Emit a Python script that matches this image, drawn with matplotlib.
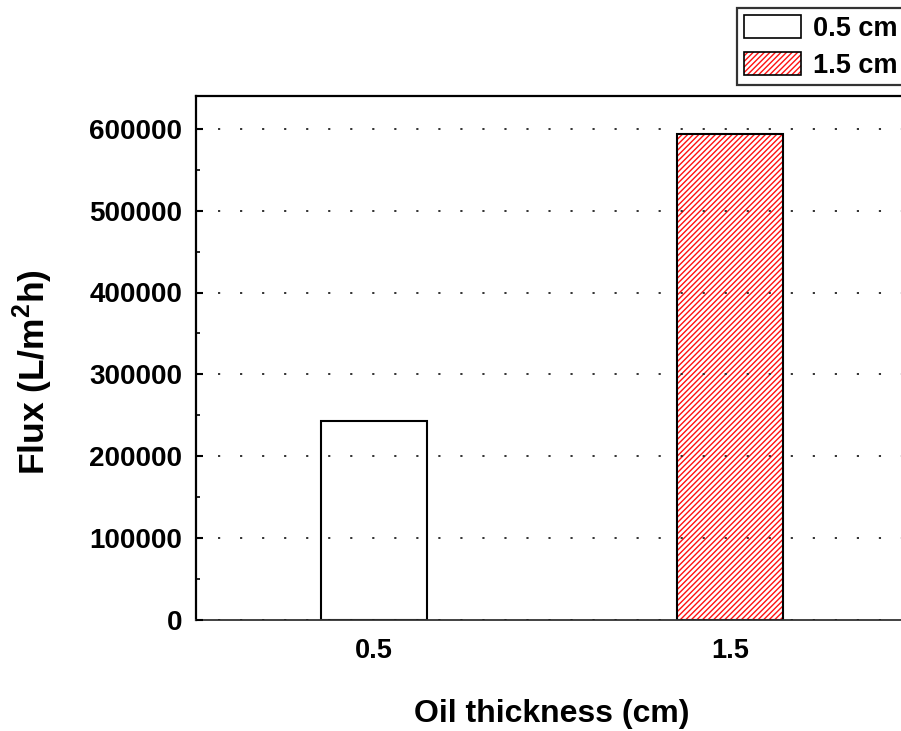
import numpy as np
import matplotlib
matplotlib.use("Agg")
import matplotlib.pyplot as plt
from matplotlib.patches import Patch
from matplotlib.legend_handler import HandlerTuple

plt.rcParams['font.family'] = ['Liberation Sans', 'DejaVu Sans']
plt.rcParams['font.weight'] = 'bold'
plt.rcParams['mathtext.fontset'] = 'custom'
plt.rcParams['mathtext.rm'] = 'Liberation Sans:bold'
plt.rcParams['mathtext.bf'] = 'Liberation Sans:bold'
plt.rcParams['hatch.linewidth'] = 1.0

# oil thickness (cm) and measured flux (L/m2h)
thickness = [0.5, 1.5]
flux = [243000, 594000]
labels = ['0.5 cm', '1.5 cm']
yticks = [0, 100000, 200000, 300000, 400000, 500000, 600000]

fig = plt.figure(figsize=(9.01, 7.31), dpi=100)
ax = fig.add_axes([196 / 901, 1 - 620 / 731, 712 / 901, 524 / 731])

hatch = '/' * 6
# plain bar
ax.bar(thickness[0], flux[0], width=0.3, facecolor='white',
       edgecolor='black', linewidth=1.5, zorder=2)
# hatched bar: red hatch first, black outline on top
ax.bar(thickness[1], flux[1], width=0.3, facecolor='white',
       edgecolor='#ff1010', hatch=hatch, linewidth=0, zorder=2)
ax.bar(thickness[1], flux[1], width=0.3, fill=False,
       edgecolor='black', linewidth=1.5, zorder=2)

ax.set_xlim(0, 2)
ax.set_ylim(0, 640000)
ax.set_xticks(thickness)
ax.set_xticklabels([str(t) for t in thickness])
ax.set_yticks(yticks)
ax.set_yticklabels([str(v) for v in yticks])
ax.set_yticks(np.arange(50000, 640000, 100000), minor=True)

ax.tick_params(axis='x', length=0, pad=13, labelsize=19.5)
ax.tick_params(axis='y', which='major', direction='in', length=5,
               width=1.5, pad=10, labelsize=20)
ax.tick_params(axis='y', which='minor', direction='in', length=3, width=1.2)

ax.yaxis.grid(True, linestyle=(0, (1.2, 11)), linewidth=1.3,
              color='#222222', zorder=3)
ax.set_axisbelow(False)

for side in ['left', 'top']:
    ax.spines[side].set_linewidth(1.6)
ax.spines['bottom'].set_linewidth(1.3)
ax.spines['bottom'].set_color('#333333')

ax.set_xlabel('Oil thickness (cm)', fontsize=23, fontweight='bold', labelpad=25)
ax.set_ylabel(r'Flux (L/m$^{2}$h)', fontsize=25.5, fontweight='bold')
ax.yaxis.set_label_coords((55 - 196) / 712, 0.473)

swatch_plain = Patch(facecolor='white', edgecolor='black', linewidth=1.2)
swatch_hatch = Patch(facecolor='white', edgecolor='#ff1010', hatch=hatch, linewidth=0)
swatch_edge = Patch(fill=False, edgecolor='black', linewidth=1.2)
leg = fig.legend([swatch_plain, (swatch_hatch, swatch_edge)], labels,
                 handler_map={tuple: HandlerTuple(ndivide=1)},
                 loc='upper left', bbox_to_anchor=(737 / 901, 1 - 8 / 731),
                 borderaxespad=0, fontsize=19.5, frameon=True, fancybox=False,
                 handlelength=2.1, handleheight=0.95, handletextpad=0.45,
                 labelspacing=0.36, borderpad=0.25)
leg.get_frame().set_edgecolor('black')
leg.get_frame().set_linewidth(1.6)

fig.savefig('out.png', dpi=100)
